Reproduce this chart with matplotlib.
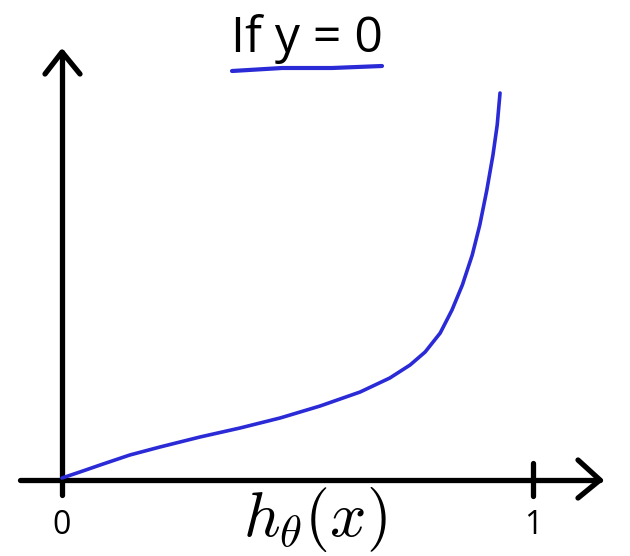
import matplotlib.pyplot as plt
import numpy as np

plt.rcParams["mathtext.fontset"] = "cm"

# curve: h in [0, 1], cost in pixel-ish units above the axis
h = [0.0, 0.038, 0.081, 0.144, 0.208, 0.293, 0.378, 0.463, 0.548, 0.633,
     0.696, 0.739, 0.771, 0.803, 0.828, 0.850, 0.871, 0.887, 0.902, 0.915,
     0.924, 0.930]
cost = [0, 6, 13, 23, 31, 41, 50, 60, 72, 86,
        100, 113, 126, 145, 168, 193, 223, 253, 288, 323,
        353, 385]

title = "If y = 0"
xlabel = r"$h_\theta(x)$"
tick_labels = ["0", "1"]

S = 471.0  # pixels per unit of h
fig = plt.figure(figsize=(6.3, 5.56), dpi=100)
ax = fig.add_axes([0, 0, 1, 1])
ax.set_xlim(-62 / S, (630 - 62) / S)
ax.set_ylim(-78, 478)
ax.axis("off")

k = dict(color="black", lw=3.8, solid_capstyle="round")
# x axis with open arrow head
ax.plot([-42 / S, 538 / S], [-2, -2], **k)
ax.plot([516 / S, 538 / S, 516 / S], [18, -2, -20], **k)
# y axis with open arrow head
ax.plot([0, 0], [-17, 426], **k)
ax.plot([-17 / S, 0, 18 / S], [404, 426, 404], **k)
# tick at 1
ax.plot([1, 1], [15, -18], **k)

ax.plot(h, cost, color="#2a2ad6", lw=2.6, solid_capstyle="round",
        solid_joinstyle="round")

# title and its underline
ax.text(245 / S, 439, title, ha="center", va="center", fontsize=36,
        family="Open Sans")
ax.plot([170 / S, 220 / S, 270 / S, 320 / S], [407, 410, 410, 412],
        color="#2a2ad6", lw=3.0, solid_capstyle="round")

ax.text(0, -48, tick_labels[0], ha="center", va="center", fontsize=23,
        family="Open Sans")
ax.text(1, -48, tick_labels[1], ha="center", va="center", fontsize=23,
        family="Open Sans")
ax.text(253 / S, -42, xlabel, ha="center", va="center", fontsize=46)

fig.savefig("out.png", dpi=100)
